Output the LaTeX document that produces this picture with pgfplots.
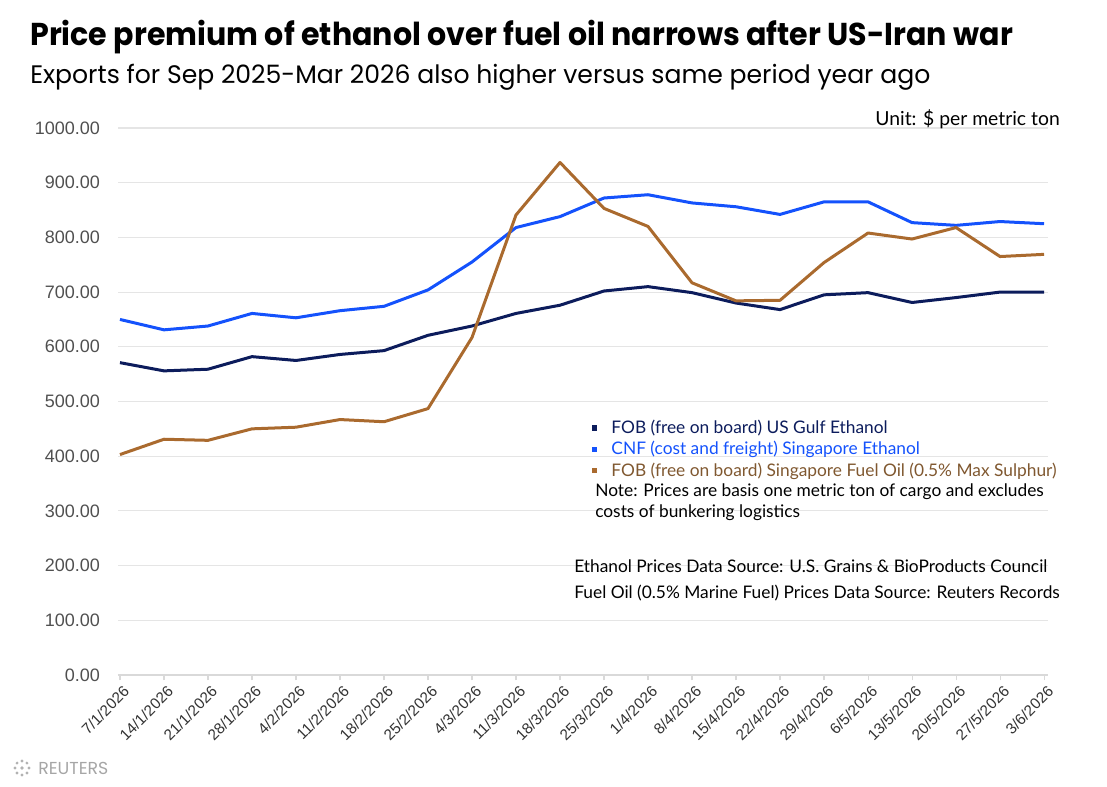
\documentclass[border=0pt]{standalone}
\usepackage{pgfplots}
\pgfplotsset{compat=1.18}
\usepackage{pgfplotstable}
\usetikzlibrary{calc}
\usepackage{fontspec}
\setmainfont{Lato}
\newfontfamily\titlefont{Poppins}
\newfontfamily\arialfont{Liberation Sans}
\definecolor{navyc}{RGB}{12,28,92}
\definecolor{bluec}{RGB}{20,82,252}
\definecolor{brownc}{RGB}{170,106,46}
\definecolor{browntxt}{RGB}{128,88,48}
\definecolor{ticktxt}{RGB}{80,80,80}
\pgfplotstableread{
idx navy blue brown
0 571 650 403
1 556 631 431
2 559 638 429
3 582 661 450
4 575 653 453
5 586 666 467
6 593 674 463
7 621 704 487
8 638 755 617
9 661 818 841
10 676 838 937
11 702 872 853
12 710 878 820
13 699 863 717
14 680 856 684
15 668 842 685
16 695 865 754
17 699 865 808
18 681 827 797
19 690 822 818
20 700 829 765
21 700 825 769
}\prices
\begin{document}
\begin{tikzpicture}
\path (0,0) rectangle (830.25pt,589.5pt);
\begin{axis}[
  at={(88.5pt,83.25pt)}, anchor=south west,
  width=697.5pt, height=410.25pt, scale only axis,
  xmin=-0.045, xmax=21.09, ymin=0, ymax=1000,
  axis x line*=bottom, axis y line*=left,
  y axis line style={draw=none},
  x axis line style={draw=black!15, line width=0.8pt},
  ytick={0,100,...,1000},
  ytick style={draw=none},
  xtick={0,...,21},
  xtick style={draw=black!15, line width=0.8pt},
  tick align=outside, major tick length=4pt,
  xticklabels={7/1/2026,14/1/2026,21/1/2026,28/1/2026,4/2/2026,11/2/2026,18/2/2026,25/2/2026,4/3/2026,11/3/2026,18/3/2026,25/3/2026,1/4/2026,8/4/2026,15/4/2026,22/4/2026,29/4/2026,6/5/2026,13/5/2026,20/5/2026,27/5/2026,3/6/2026},
  xticklabel style={rotate=45, anchor=east, font=\arialfont\fontsize{11.5}{12}\selectfont, text=black!80, inner sep=1pt, yshift=-8pt, xshift=0pt},
  yticklabel style={font=\arialfont\fontsize{13.5}{14}\selectfont, text=ticktxt, xshift=-6pt},
  /pgf/number format/.cd, fixed, fixed zerofill, precision=2, 1000 sep={}, assume math mode=true,
  /pgfplots/.cd,
  ymajorgrids, grid style={draw=black!10, line width=0.8pt},
  legend style={at={(0.5095,0.4717)}, anchor=north west, draw=none, fill=none,
    font=\fontsize{13}{15}\selectfont, row sep=0pt, inner sep=0pt, nodes={inner ysep=2.2pt}},
  legend cell align=left,
  legend image code/.code={\fill[#1, draw=none] (0pt,-2pt) rectangle (4pt,2pt);\path[draw=none, fill=none] (0pt,0pt) -- (12.5pt,0pt);},
  clip=false,
]
\addplot[color=navyc, line width=2.25pt, line join=round] table[x=idx,y=navy]{\prices};
\addlegendentry{\textcolor{navyc}{FOB (free on board) US Gulf Ethanol}}
\addplot[color=bluec, line width=2.25pt, line join=round] table[x=idx,y=blue]{\prices};
\addlegendentry{\textcolor{bluec}{CNF (cost and freight) Singapore Ethanol}}
\addplot[color=brownc, line width=2.25pt, line join=round] table[x=idx,y=brown]{\prices};
\addlegendentry{\textcolor{browntxt}{FOB (free on board) Singapore Fuel Oil (0.5\% Max Sulphur)}}
\end{axis}
\begin{scope}[x=0.75pt,y=0.75pt]
\node[anchor=base west, inner sep=0pt] at (30,786-46) {\resizebox{737pt}{19pt}{\titlefont\bfseries Price premium of ethanol over fuel oil narrows after US-Iran war}};
\node[anchor=base west, inner sep=0pt] at (30,786-84) {\resizebox{675pt}{14.5pt}{\titlefont Exports for Sep 2025-Mar 2026 also higher versus same period year ago}};
\node[anchor=base east, inner sep=0pt, font=\fontsize{14.5}{16}\selectfont] at (1060,786-126) {Unit: \$ per metric ton};
\node[anchor=base west, inner sep=0pt, font=\fontsize{13}{15}\selectfont, align=left] at (595,786-497) {Note: Prices are basis one metric ton of cargo and excludes};
\node[anchor=base west, inner sep=0pt, font=\fontsize{13}{15}\selectfont] at (595,786-518) {costs of bunkering logistics};
\node[anchor=base west, inner sep=0pt, font=\fontsize{13}{15}\selectfont] at (574,786-573) {Ethanol Prices Data Source: U.S. Grains \& BioProducts Council};
\node[anchor=base west, inner sep=0pt, font=\fontsize{13}{15}\selectfont] at (574,786-599) {Fuel Oil (0.5\% Marine Fuel) Prices Data Source: Reuters Records};
% Reuters logo
\foreach \a in {0,45,...,315} {\fill[black!30] ($(22,786-768)+(\a:7)$) circle (1.6);}
\fill[black!30] (22,786-768) circle (1.8);
\node[anchor=west, inner sep=0pt, text=black!35, font=\titlefont\fontsize{13}{14}\selectfont] at (38,786-768) {REUTERS};
\end{scope}
\end{tikzpicture}
\end{document}
